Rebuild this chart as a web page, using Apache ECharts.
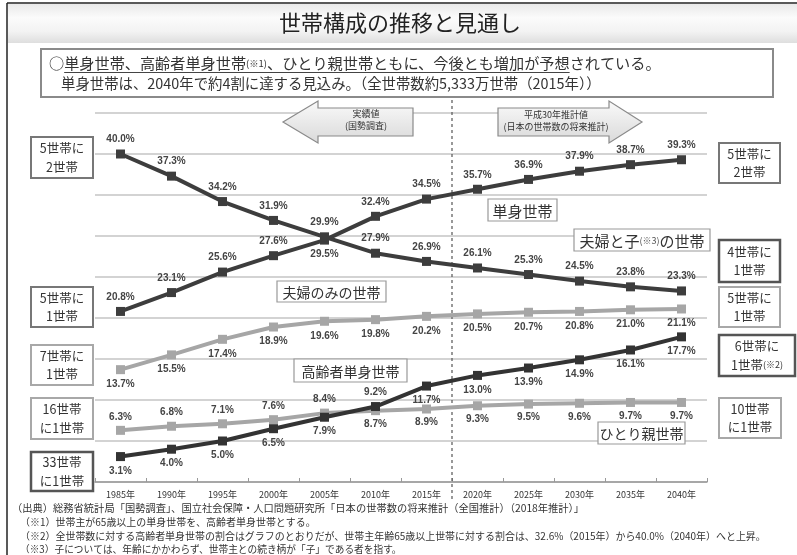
<!DOCTYPE html>
<html><head><meta charset="utf-8">
<script src="https://cdn.jsdelivr.net/npm/echarts@6/dist/echarts.min.js"></script>
<style>html,body{margin:0;padding:0;background:#fff;}#c{width:797px;height:555px;}</style>
</head><body><div id="c"></div>
<script>
const years = ['1985年','1990年','1995年','2000年','2005年','2010年','2015年','2020年','2025年','2030年','2035年','2040年'];
const tanshin = [20.8, 23.1, 25.6, 27.6, 29.5, 32.4, 34.5, 35.7, 36.9, 37.9, 38.7, 39.3];
const fuufuKo = [40.0, 37.3, 34.2, 31.9, 29.9, 27.9, 26.9, 26.1, 25.3, 24.5, 23.8, 23.3];
const fuufuNomi = [13.7, 15.5, 17.4, 18.9, 19.6, 19.8, 20.2, 20.5, 20.7, 20.8, 21.0, 21.1];
const koreiTanshin = [3.1, 4.0, 5.0, 6.5, 7.9, 9.2, 11.7, 13.0, 13.9, 14.9, 16.1, 17.7];
const hitorioya = [6.3, 6.8, 7.1, 7.6, 8.4, 8.7, 8.9, 9.3, 9.5, 9.6, 9.7, 9.7];
const yTicks = [0, 5, 10, 15, 20, 25, 30, 35, 40, 45];

// label placement (style config)
const posT = 'top', posB = 'bottom';
const tanshinPos = [posT,posT,posT,posT,posB,posT,posT,posT,posT,posT,posT,posT];
const fuufuKoPos = Array(12).fill(posT);
const fuufuNomiPos = Array(12).fill(posB);
const koreiPos = [posB,posB,posB,posB,posB,posT,posB,posB,posB,posB,posB,posB];
const hitoriPos = [posT,posT,posT,posT,posT,posB,posB,posB,posB,posB,posB,posB];

const JP = '"Noto Sans CJK JP", "Noto Sans", sans-serif';
const DARK = '#3d3d3d', LIGHT = '#a6a6a6';

function mkData(vals, pos){
  return vals.map((v,i)=>({value:v, label:{position:pos[i]}}));
}
function mkSeries(name, vals, pos, color, dist){
  return {
    name, type:'line', data: mkData(vals,pos),
    symbol:'rect', symbolSize:9, showSymbol:true,
    lineStyle:{color, width:4}, itemStyle:{color},
    label:{show:true, formatter: p=>p.value.toFixed(1)+'%', fontSize:10, fontWeight:'bold',
      color:'#444', fontFamily:'"Liberation Sans", Arial, sans-serif', distance:dist||5},
    z:5, animation:false
  };
}

const chart = echarts.init(document.getElementById('c'), null, {renderer:'canvas'});
const option = {
  animation:false,
  backgroundColor:'#fff',
  grid:{left:95, right:90, top:113, bottom:73},
  xAxis:{type:'category', data:years, boundaryGap:true,
    axisLine:{lineStyle:{color:'#999', width:1.5}},
    axisTick:{show:true, inside:true, length:4, lineStyle:{color:'#999'}},
    axisLabel:{fontSize:9, color:'#333', margin:8, fontFamily:JP}},
  yAxis:{type:'value', min:yTicks[0], max:yTicks[yTicks.length-1], interval:yTicks[1]-yTicks[0],
    axisLabel:{show:false}, axisLine:{show:false}, axisTick:{show:false},
    splitLine:{lineStyle:{color:'#c4c4c4', width:1.5}}},
  series:[
    mkSeries('夫婦のみの世帯', fuufuNomi, fuufuNomiPos, LIGHT),
    mkSeries('ひとり親世帯', hitorioya, hitoriPos, LIGHT, 4),
    mkSeries('単身世帯', tanshin, tanshinPos, DARK),
    mkSeries('夫婦と子の世帯', fuufuKo, fuufuKoPos, DARK),
    mkSeries('高齢者単身世帯', koreiTanshin, koreiPos, '#333')
  ]
};
chart.setOption(option);

// ----- annotations -----
const g = [];
const ctx = document.createElement('canvas').getContext('2d');
function tw(t, size){ ctx.font = size+'px "Noto Sans CJK JP"'; return ctx.measureText(t).width; }
function fitSize(t, target, base){ const w = tw(t, base); return w>0 ? base*target/w : base; }

// outer border
g.push({type:'line', shape:{x1:7,y1:3,x2:7,y2:560}, style:{stroke:'#222', lineWidth:1.5}, z:50});
g.push({type:'line', shape:{x1:7,y1:3,x2:800,y2:3}, style:{stroke:'#222', lineWidth:1.5}, z:50});
// header band
g.push({type:'rect', shape:{x:8,y:4,width:790,height:39}, style:{fill:new echarts.graphic.LinearGradient(0,0,0,1,[
  {offset:0,color:'#e9e9e9'},{offset:0.35,color:'#fbfbfb'},{offset:0.7,color:'#f3f3f3'},{offset:1,color:'#dedede'}])}, z:1});
g.push({type:'text', x:400, y:23, style:{text:'世帯構成の推移と見通し', fontSize:22, fontFamily:JP, fill:'#222', align:'center', verticalAlign:'middle'}, z:2});

// summary box
g.push({type:'rect', shape:{x:41,y:49,width:732,height:48}, style:{fill:'#fff', stroke:'#8a8a8a', lineWidth:2}, z:2});
const segs = [['○',1],['単身世帯、高齢者単身世帯',1],['(※1)',0.62],['、ひとり親世帯ともに、今後とも増加が予想',1],['されている。',1]];
let tot = 0; segs.forEach(s=>tot+=tw(s[0], 15*s[1]));
const fs1 = 15*612/tot;
let cx = 49; let ulStart=0, ulEnd=0;
segs.forEach((s,i)=>{
  if(i===1) ulStart = cx;
  g.push({type:'text', x:cx, y:63, style:{text:s[0], fontSize:fs1*s[1], fontFamily:JP, fill:'#333', align:'left', verticalAlign:'middle'}, z:3});
  cx += tw(s[0], fs1*s[1]);
  if(i===3) ulEnd = cx;
});
g.push({type:'line', shape:{x1:ulStart,y1:72.5,x2:ulEnd,y2:72.5}, style:{stroke:'#444', lineWidth:1}, z:3});
const line2 = '単身世帯は、2040年で約4割に達する見込み。（全世帯数約5,333万世帯（2015年））';
g.push({type:'text', x:61, y:84, style:{text:line2, fontSize:Math.min(16, fitSize(line2, 540, 15)), fontFamily:JP, fill:'#333', align:'left', verticalAlign:'middle'}, z:3});

// arrows
const arrGrad = ()=> new echarts.graphic.LinearGradient(0,0,0,1,[{offset:0,color:'#fafafa'},{offset:1,color:'#d9d9d9'}]);
g.push({type:'polygon', shape:{points:[[283,122],[318,101],[318,108],[413,108],[413,136],[318,136],[318,143]]}, style:{fill:arrGrad(), stroke:'#8a8a8a', lineWidth:1.2}, z:20});
g.push({type:'text', x:366, y:120, style:{text:'実績値\n(国勢調査)', fontSize:9, lineHeight:12, fontFamily:JP, fill:'#333', align:'center', verticalAlign:'middle'}, z:21});
g.push({type:'polygon', shape:{points:[[498,108],[609,108],[609,101],[642,122],[609,143],[609,136],[498,136]]}, style:{fill:arrGrad(), stroke:'#8a8a8a', lineWidth:1.2}, z:20});
g.push({type:'text', x:556, y:121, style:{text:'平成30年推計値\n(日本の世帯数の将来推計)', fontSize:9, lineHeight:12, fontFamily:JP, fill:'#333', align:'center', verticalAlign:'middle'}, z:21});

function box(x,y,w,h,text,stroke,lw,size,rich){
  g.push({type:'rect', shape:{x,y,width:w,height:h}, style:{fill:'#fff', stroke, lineWidth:lw}, z:30});
  g.push({type:'text', x:x+w/2, y:y+h/2, style:{text, rich, fontSize:size, lineHeight:size+6, fontFamily:JP, fill:'#333', align:'center', verticalAlign:'middle'}, z:31});
}
const MID='#777', LT='#a8a8a8', DK='#555';
// left boxes
box(31,137,62,41,'5世帯に\n2世帯',MID,2,12.5);
box(31,287,62,40,'5世帯に\n1世帯',MID,2,12.5);
box(31,345,62,40,'7世帯に\n1世帯',LT,2,12.5);
box(31,398,62,41,'16世帯\nに1世帯',LT,2,12.5);
box(31,452,62,39,'33世帯\nに1世帯',DK,2.5,12.5);
// right boxes
box(719,143,61,40,'5世帯に\n2世帯',MID,2,12.5);
box(719,240,61,42,'4世帯に\n1世帯',DK,2.5,12.5);
box(719,287,61,40,'5世帯に\n1世帯',LT,2,12.5);
box(719,335,76,41,'6世帯に\n1世帯{s|(※2)}',DK,2.5,12.5,{s:{fontSize:9,fontFamily:JP,fill:'#333'}});
box(719,398,62,40,'10世帯\nに1世帯',LT,2,12.5);

// series name boxes
function nbox(x,y,w,h,text,size,rich){
  g.push({type:'rect', shape:{x,y,width:w,height:h}, style:{fill:'#fff', stroke:'#999', lineWidth:1.2}, z:3});
  g.push({type:'text', x:x+w/2, y:y+h/2+1, style:{text, rich, fontSize:size, fontFamily:JP, fill:'#333', align:'center', verticalAlign:'middle'}, z:4});
}
nbox(488,199,69,22,'単身世帯',15);
nbox(574,229,136,22,'夫婦と子{s|(※3)}の世帯',15,{s:{fontSize:9,fontFamily:JP,fill:'#555'}});
nbox(277,281,109,21,'夫婦のみの世帯',14);
nbox(294,359,113,23,'高齢者単身世帯',14);
nbox(598,422,87,22,'ひとり親世帯',14);

// dashed divider between actual & projection
const p1 = chart.convertToPixel({xAxisIndex:0}, years[6]);
const p2 = chart.convertToPixel({xAxisIndex:0}, years[7]);
const xd = (p1+p2)/2;
g.push({type:'line', shape:{x1:xd,y1:100,x2:xd,y2:500}, style:{stroke:'#555', lineWidth:1.2, lineDash:[3,3]}, z:4});

// footnotes [x, y, text, right edge]
const notes = [
  [12,508,'（出典）総務省統計局「国勢調査」、国立社会保障・人口問題研究所「日本の世帯数の将来推計（全国推計）（2018年推計）」',585],
  [20,522,'（※1）世帯主が65歳以上の単身世帯を、高齢者単身世帯とする。',316],
  [20,536,'（※2）全世帯数に対する高齢者単身世帯の割合はグラフのとおりだが、世帯主年齢65歳以上世帯に対する割合は、32.6%（2015年）から40.0%（2040年）へと上昇。',766],
  [20,549,'（※3）子については、年齢にかかわらず、世帯主との続き柄が「子」である者を指す。',402]
];
notes.forEach(n=>{
  const fs = Math.max(8.5, Math.min(11, fitSize(n[2], n[3]-n[0], 10)));
  g.push({type:'text', x:n[0], y:n[1], style:{text:n[2], fontSize:fs, fontFamily:JP, fill:'#333', align:'left', verticalAlign:'middle'}, z:3});
});

chart.setOption({graphic:g});
</script></body></html>
